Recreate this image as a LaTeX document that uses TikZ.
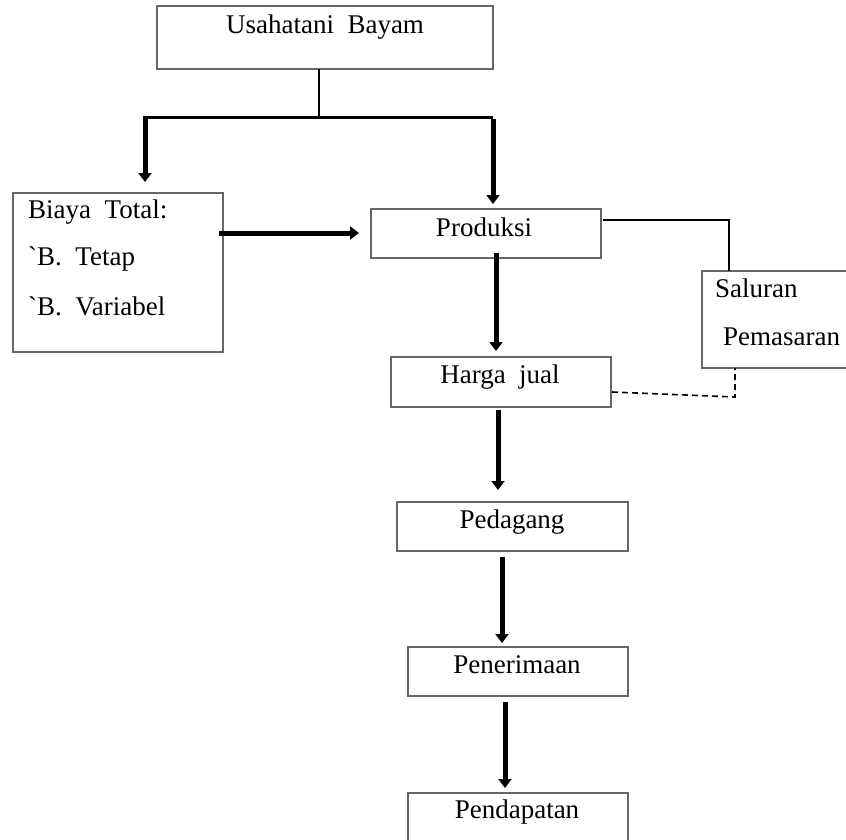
\documentclass[tikz,border=0pt]{standalone}
\usepackage{fontspec}
\setmainfont{Liberation Serif}
\usetikzlibrary{arrows.meta}
\begin{document}
\begin{tikzpicture}[x=1pt,y=-1pt,
  box/.style={draw=black!60, line width=1.2pt, inner sep=0pt, outer sep=0pt, anchor=north west},
  lbl/.style={font=\fontsize{27}{32}\selectfont, inner sep=0pt, anchor=base},
  lbll/.style={lbl, anchor=base west},
  bigarrow/.style={draw=black, line width=5pt, -{Triangle[width=13pt,length=9pt]}},
  barline/.style={draw=black, line width=3pt},
  stemline/.style={draw=black, line width=1.6pt},
  linkline/.style={draw=black, line width=2pt},
  dashline/.style={draw=black, line width=1.6pt, dash pattern=on 6pt off 4pt}
]
\useasboundingbox (0,0) rectangle (846,839);

% boxes
\node[box, minimum width=336pt, minimum height=63pt] (usaha) at (157,6) {};
\node[box, minimum width=210pt, minimum height=159pt] (biaya) at (13,193) {};
\node[box, minimum width=230pt, minimum height=49pt] (produksi) at (371,209) {};
\node[box, minimum width=150pt, minimum height=97pt] (saluran) at (702,271) {};
\node[box, minimum width=220pt, minimum height=50pt] (harga) at (391,357) {};
\node[box, minimum width=231pt, minimum height=49pt] (pedagang) at (397,502) {};
\node[box, minimum width=220pt, minimum height=49pt] (penerimaan) at (408,647) {};
\node[box, minimum width=220pt, minimum height=60pt] (pendapatan) at (408,793) {};

% texts
\node[lbl] (tusaha) at (325,33) {Usahatani\ \ Bayam};
\node[lbll] (tb1) at (28,218) {Biaya\ \ Total:};
\node[lbll] (tb2) at (28,265) {\textasciigrave B.\ \ Tetap};
\node[lbll] (tb3) at (28,315) {\textasciigrave B.\ \ Variabel};
\node[lbl] (tprod) at (484,236) {Produksi};
\node[lbll] (ts1) at (715,297) {Saluran};
\node[lbll] (ts2) at (723,345) {Pemasaran};
\node[lbl] (tharga) at (500,383) {Harga\ \ jual};
\node[lbl] (tpedag) at (512,528) {Pedagang};
\node[lbl] (tpener) at (517,673) {Penerimaan};
\node[lbl] (tpenda) at (517,818) {Pendapatan};

% junction coordinates
\coordinate (j) at (319,117);
\coordinate (bl) at (145,117);
\coordinate (br) at (493,117);
\coordinate (blt) at (145,182);
\coordinate (brs) at (493,119);
\coordinate (brt) at (493,204);
\coordinate (bps) at (219,233);
\coordinate (bpt) at (359,233);
\coordinate (phs) at (496,253);
\coordinate (pht) at (496,351);
\coordinate (hps) at (498,410);
\coordinate (hpt) at (498,490);
\coordinate (pps) at (502,557);
\coordinate (ppt) at (502,643);
\coordinate (pds) at (505,702);
\coordinate (pdt) at (505,788);
\coordinate (sl1) at (729,220);
\coordinate (hs1) at (735,397);

% connectors
\draw[stemline] (j |- usaha.south) -- (j);
\draw[barline] (bl) -- (br);
\draw[bigarrow] ([yshift=1.5pt]bl) -- (blt);
\draw[bigarrow] (brs) -- (brt);
\draw[bigarrow] (bps) -- (bpt);
\draw[bigarrow] (phs) -- (pht);
\draw[bigarrow] (hps) -- (hpt);
\draw[bigarrow] (pps) -- (ppt);
\draw[bigarrow] (pds) -- (pdt);
\draw[linkline] ([xshift=2pt]produksi.east |- sl1) -- (sl1) -- (sl1 |- saluran.north);
\draw[dashline] ([xshift=1pt]harga.east |- 0,392) -- (hs1) -- (hs1 |- saluran.south);
\end{tikzpicture}
\end{document}
